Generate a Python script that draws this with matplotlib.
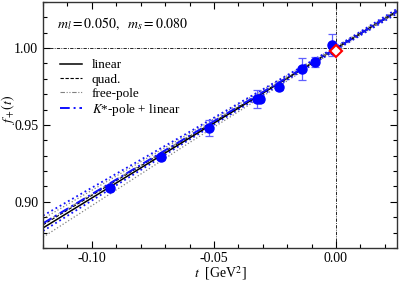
import matplotlib
matplotlib.use("Agg")
from matplotlib import pyplot as plt
from matplotlib.ticker import MultipleLocator
import numpy as np

# lattice data points
t_data = [-0.0926, -0.0717, -0.0522, -0.0324, -0.0310, -0.0234, -0.0139, -0.0086, -0.0016, -0.0008]
f_data = [0.909, 0.929, 0.948, 0.967, 0.967, 0.975, 0.9865, 0.991, 1.002, 0.999]
f_err = [0.002, 0.002, 0.005, 0.006, 0.002, 0.002, 0.007, 0.003, 0.007, 0.003]

t_fit = [-0.12, -0.06, 0.0, 0.025]
lin = [0.883, 0.9415, 0.9998, 1.024]
lin_hi = [0.889, 0.9445, 1.0008, 1.025]
lin_lo = [0.877, 0.9385, 0.9988, 1.023]
quad = [0.885, 0.9425, 0.9998, 1.0235]
freepole = [0.886, 0.943, 0.9998, 1.0235]
kpole = [0.886, 0.943, 0.9998, 1.024]
kpole_hi = [0.891, 0.9455, 1.0008, 1.0255]
kpole_lo = [0.881, 0.9405, 0.9988, 1.0225]

# f(0) from the double ratio
t0 = [0.0]
f0 = [0.998]

plt.rcParams['font.family'] = ['Liberation Serif', 'DejaVu Serif']
plt.rcParams['mathtext.fontset'] = 'stix'

fig = plt.figure(figsize=(3.99, 2.82), dpi=100)
ax = fig.add_axes([0.108, 0.121, 0.887, 0.872])

ax.axhline(1.0, color='black', lw=0.6, ls=(0, (4, 1.5, 1, 1.5)))
ax.axvline(0.0, color='black', lw=0.6, ls=(0, (4, 1.5, 1, 1.5)))

ax.plot(t_fit, lin_hi, color='gray', lw=0.9, ls=':')
ax.plot(t_fit, lin_lo, color='gray', lw=0.9, ls=':')
ax.plot(t_fit, kpole_hi, color='#1010ff', lw=1.3, ls=':')
ax.plot(t_fit, kpole_lo, color='#1010ff', lw=1.3, ls=':')

l1, = ax.plot(t_fit, lin, color='black', lw=1.1, ls='-', label='linear')
l2, = ax.plot(t_fit, quad, color='black', lw=0.8, ls=(0, (3, 1.5)), label='quad.')
l3, = ax.plot(t_fit, freepole, color='gray', lw=0.8, ls=(0, (4, 1.5, 1, 1.5, 1, 1.5)), label='free-pole')
l4, = ax.plot(t_fit, kpole, color='#1010ff', lw=1.4, ls=(0, (5, 2, 1, 2)), label=r'$K$*-pole + linear')

ax.errorbar(t_data, f_data, yerr=f_err, fmt='o', color='#0000ff', ms=6.5,
            ecolor='#6060ff', elinewidth=0.9, capsize=3, capthick=0.9, zorder=5)
ax.plot(t0, f0, 'D', ms=6, mfc='white', mec='red', mew=1.5, zorder=6)

ax.set_xlim(-0.12, 0.025)
ax.set_ylim(0.87, 1.03)
ax.xaxis.set_major_locator(MultipleLocator(0.05))
ax.xaxis.set_minor_locator(MultipleLocator(0.01))
ax.yaxis.set_major_locator(MultipleLocator(0.05))
ax.yaxis.set_minor_locator(MultipleLocator(0.01))
ax.xaxis.set_major_formatter(plt.FuncFormatter(lambda v, p: f"{v:.2f}"))
ax.yaxis.set_major_formatter(plt.FuncFormatter(lambda v, p: f"{v:.2f}"))
ax.tick_params(which='both', direction='in', top=True, right=True, labelsize=10, width=0.8)
ax.tick_params(which='major', length=5)
ax.tick_params(which='minor', length=3)
ax.tick_params(axis='x', pad=3)
for s in ax.spines.values():
    s.set_linewidth(1.0)
    s.set_color('#333333')

ax.set_xlabel(r'$t$  [GeV$^2$]', fontsize=10)
ax.set_ylabel(r'$f_+(t)$', fontsize=10)
ax.xaxis.set_label_coords(0.5, -0.065)
ax.yaxis.set_label_coords(-0.073, 0.56)

ax.text(0.04, 0.895, r'$m_l = 0.050,\ \ m_s = 0.080$', transform=ax.transAxes, fontsize=10)

ax.legend(handles=[l1, l2, l3, l4], loc='upper left', bbox_to_anchor=(0.025, 0.80),
          frameon=False, fontsize=9.5, handlelength=1.7, handletextpad=0.7,
          labelspacing=0.15, borderaxespad=0.2)

fig.savefig("out.png", dpi=100)
